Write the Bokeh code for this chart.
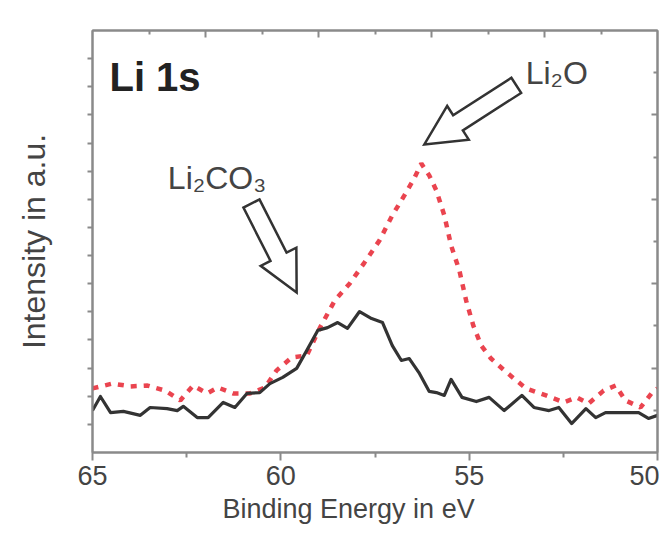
import numpy as np
from bokeh.plotting import figure
from bokeh.models import (Range1d, FixedTicker, LinearAxis, Label, Title,
                          CustomJSTickFormatter)
from bokeh.embed import file_html
from bokeh.resources import INLINE

# ---- data ----
energy_black = [65.00, 64.79, 64.52, 64.18, 63.73, 63.47, 63.02, 62.75, 62.59, 62.22,
                61.93, 61.53, 61.22, 60.90, 60.56, 60.29, 59.95, 59.58, 59.31, 59.02,
                58.76, 58.49, 58.23, 57.91, 57.59, 57.30, 57.04, 56.80, 56.59, 56.32,
                56.06, 55.87, 55.66, 55.48, 55.19, 54.81, 54.47, 54.07, 53.60, 53.28,
                52.88, 52.62, 52.28, 51.90, 51.64, 51.38, 50.50, 50.24, 50.00]
intensity_black = [1.49, 1.99, 1.42, 1.46, 1.32, 1.60, 1.56, 1.49, 1.64, 1.24,
                   1.24, 1.78, 1.60, 2.10, 2.13, 2.45, 2.67, 2.99, 3.63, 4.34,
                   4.44, 4.62, 4.41, 5.01, 4.76, 4.62, 3.80, 3.27, 3.34, 2.81,
                   2.17, 2.13, 2.03, 2.60, 1.96, 1.81, 1.96, 1.49, 2.03, 1.60,
                   1.49, 1.60, 1.03, 1.56, 1.24, 1.42, 1.42, 1.21, 1.32]

energy_red = [65.00, 64.47, 63.99, 63.54, 63.07, 62.67, 62.33, 61.96, 61.67, 61.27,
              60.82, 60.42, 60.11, 59.71, 59.31, 58.97, 58.57, 58.17, 57.78, 57.38,
              57.04, 56.72, 56.46, 56.27, 56.06, 55.87, 55.66, 55.48, 55.26, 55.08,
              54.89, 54.68, 54.42, 54.07, 53.81, 53.49, 52.96, 52.49, 52.14, 51.83,
              51.43, 51.11, 50.85, 50.45, 50.16, 50.00]
intensity_red = [2.28, 2.45, 2.35, 2.38, 2.20, 1.85, 2.38, 2.10, 2.31, 2.10,
                 2.10, 2.31, 2.92, 3.38, 3.45, 4.41, 5.40, 6.01, 6.75, 7.54,
                 8.43, 9.14, 9.74, 10.27, 9.85, 9.31, 8.43, 7.36, 6.47, 5.40,
                 4.51, 3.80, 3.34, 2.92, 2.63, 2.28, 2.03, 1.78, 1.96, 1.74,
                 2.20, 2.38, 1.85, 1.60, 2.10, 2.28]

x_major_ticks = [65, 60, 55, 50]
x_minor_ticks = [62.5, 57.5, 52.5]
y_left_ticks = list(range(1, 15))

X_MIN, X_MAX = 65, 50
Y_MIN, Y_MAX = 0, 15

FRAME_W, FRAME_H = 565, 422
SX = FRAME_W / abs(X_MIN - X_MAX)
SY = FRAME_H / (Y_MAX - Y_MIN)

FONT = "Liberation Sans"
TXT = "#444444"
AX = "#8a8a8a"

p = figure(width=659, height=532, output_backend="svg", toolbar_location=None,
           x_range=Range1d(X_MIN, X_MAX), y_range=Range1d(Y_MIN, Y_MAX),
           min_border_left=92, min_border_right=2, min_border_top=30,
           min_border_bottom=80,
           y_axis_label="Intensity in a.u.")
p.title.visible = False
p.xgrid.visible = False
p.ygrid.visible = False
p.outline_line_color = AX
p.outline_line_width = 2
p.background_fill_color = "white"
p.border_fill_color = "white"

empty_fmt = CustomJSTickFormatter(code="return ''")

# bottom axis
xa = p.xaxis[0]
xa.ticker = FixedTicker(ticks=x_major_ticks, minor_ticks=x_minor_ticks)
xa.major_tick_in = 0
xa.major_tick_out = 8
xa.minor_tick_in = 0
xa.minor_tick_out = 5
xa.axis_line_color = AX
xa.axis_line_width = 2
xa.major_tick_line_color = AX
xa.major_tick_line_width = 2
xa.minor_tick_line_color = AX
xa.minor_tick_line_width = 2
xa.major_label_text_font = FONT
xa.major_label_text_font_size = "27px"
xa.major_label_text_color = TXT
xa.major_label_standoff = 5

# x-axis title, sitting a little left of centre as in the original
p.add_layout(Title(text="Binding Energy in eV", align="left", offset=130,
                   text_font=FONT, text_font_size="27px",
                   text_font_style="normal", text_color=TXT, standoff=8),
             "below")

# left axis
ya = p.yaxis[0]
ya.ticker = FixedTicker(ticks=y_left_ticks, minor_ticks=[])
ya.formatter = empty_fmt
ya.major_label_text_font_size = "0px"
ya.major_tick_in = 0
ya.major_tick_out = 5
ya.axis_line_color = AX
ya.axis_line_width = 2
ya.major_tick_line_color = AX
ya.major_tick_line_width = 2
ya.axis_label_text_font = FONT
ya.axis_label_text_font_size = "32px"
ya.axis_label_text_font_style = "normal"
ya.axis_label_text_color = TXT
ya.axis_label_standoff = 36

# top axis (ticks inward, no labels)
top = LinearAxis(ticker=FixedTicker(ticks=[62, 59, 56, 53],
                                    minor_ticks=[63.5, 60.5, 57.5, 54.5, 51.5]),
                 formatter=empty_fmt, major_label_text_font_size="0px",
                 major_tick_in=7, major_tick_out=0,
                 minor_tick_in=4, minor_tick_out=0, major_label_standoff=0,
                 axis_line_color=AX, axis_line_width=2,
                 major_tick_line_color=AX, major_tick_line_width=2,
                 minor_tick_line_color=AX, minor_tick_line_width=2)
p.add_layout(top, "above")

# right axis (ticks inward, no labels)
right = LinearAxis(ticker=FixedTicker(ticks=[3, 6, 9, 12],
                                      minor_ticks=[1.5, 4.5, 7.5, 10.5, 13.5]),
                   formatter=empty_fmt, major_label_text_font_size="0px",
                   major_tick_in=6, major_tick_out=0,
                   minor_tick_in=4, minor_tick_out=0, major_label_standoff=0,
                   axis_line_color=AX, axis_line_width=2,
                   major_tick_line_color=AX, major_tick_line_width=2,
                   minor_tick_line_color=AX, minor_tick_line_width=2)
p.add_layout(right, "right")

# curves
p.line(energy_red, intensity_red, line_color="#e8303c", line_width=4.5,
       line_dash="6 7", line_alpha=0.9)
p.line(energy_black, intensity_black, line_color="#333333", line_width=3.2,
       line_join="round")

# hollow block arrows (tip, tail) in data units
arrow_tips = [(56.19, 10.95), (59.58, 5.69)]
arrow_tails = [(53.75, 13.05), (60.78, 8.85)]


def block_arrow(tip, tail, shaft=9.0, head=20.0, head_len=40.0):
    tx, ty = (X_MIN - tip[0]) * SX, tip[1] * SY
    sx, sy = (X_MIN - tail[0]) * SX, tail[1] * SY
    dx, dy = tx - sx, ty - sy
    n = np.hypot(dx, dy)
    ux, uy = dx / n, dy / n
    nx, ny = -uy, ux
    bx, by = tx - ux * head_len, ty - uy * head_len
    pts = [(sx + nx * shaft, sy + ny * shaft),
           (bx + nx * shaft, by + ny * shaft),
           (bx + nx * head, by + ny * head),
           (tx, ty),
           (bx - nx * head, by - ny * head),
           (bx - nx * shaft, by - ny * shaft),
           (sx - nx * shaft, sy - ny * shaft)]
    xs = [X_MIN - px / SX for px, _ in pts]
    ys = [py / SY for _, py in pts]
    return xs, ys


axs, ays = [], []
for tip, tail in zip(arrow_tips, arrow_tails):
    a, b = block_arrow(tip, tail)
    axs.append(a)
    ays.append(b)
p.patches(axs, ays, fill_color="white", line_color="#333333", line_width=2.5,
          line_join="miter")

# texts
p.add_layout(Label(x=64.55, y=13.35, text="Li 1s", text_font=FONT,
                   text_font_size="40px", text_font_style="bold",
                   text_color="#222222", text_baseline="alphabetic"))
p.add_layout(Label(x=53.5, y=13.5, text="Li₂O", text_font=FONT,
                   text_font_size="32px", text_color=TXT,
                   text_baseline="alphabetic"))
p.add_layout(Label(x=63.0, y=9.75, text="Li₂CO₃", text_font=FONT,
                   text_font_size="32px", text_color=TXT,
                   text_baseline="alphabetic"))

open("out.html", "w").write(file_html(p, INLINE))
